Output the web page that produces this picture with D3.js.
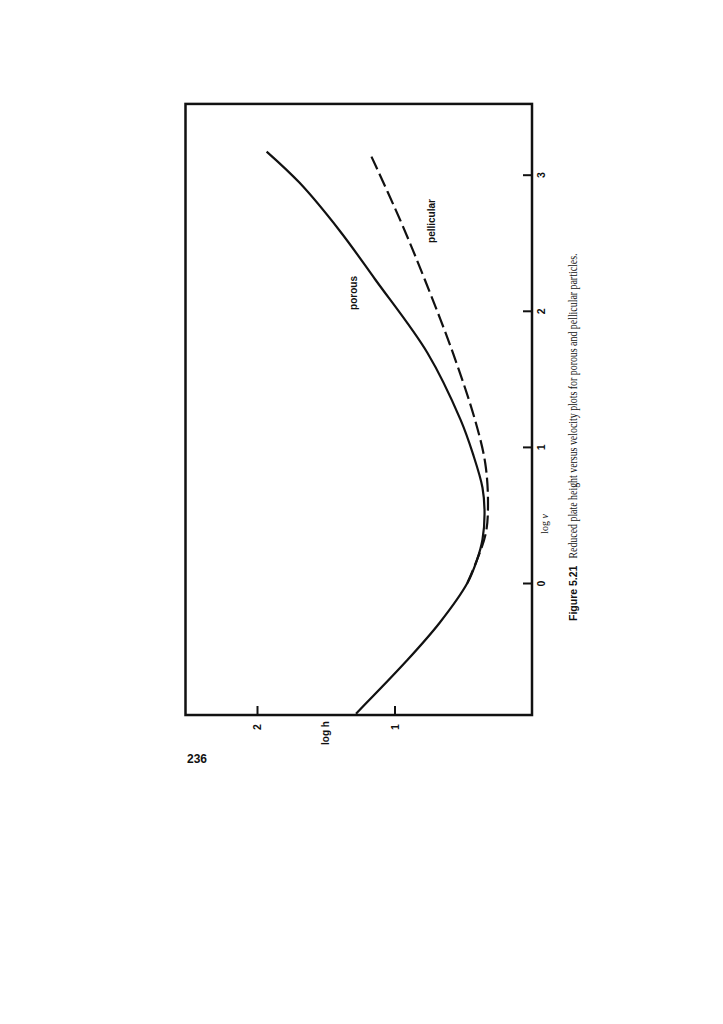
<!DOCTYPE html>
<html lang="en">
<head>
  <meta charset="UTF-8">
  <title>Reduced plate height versus velocity</title>
  <style>
    body { margin: 0; background: #fff; }
    svg { display: block; }
    .lbl { font-family: 'Liberation Sans', Arial, sans-serif; font-weight: bold; fill: #111; }
    .cap { font-family: 'Liberation Serif', 'Times New Roman', serif; fill: #111; }
  </style>
</head>
<body>
<svg width="723" height="1024"></svg>
<script src="https://d3js.org/d3.v7.min.js"></script>
<script>
// log nu (velocity) vs log h (reduced plate height)
const porousLogV = [-0.96, -0.57, -0.29, 0.0, 0.17, 0.32, 0.51, 0.70, 0.95, 1.20, 1.69, 2.23, 2.59, 2.94, 3.17];
const porousLogH = [1.28, 0.91, 0.67, 0.47, 0.40, 0.36, 0.345, 0.36, 0.43, 0.52, 0.76, 1.14, 1.40, 1.69, 1.93];

const pellicularLogV = [0.0, 0.17, 0.37, 0.59, 0.88, 1.20, 1.69, 2.23, 2.67, 3.16];
const pellicularLogH = [0.47, 0.40, 0.335, 0.32, 0.34, 0.415, 0.575, 0.78, 0.96, 1.18];

const logVTicks = [0, 1, 2, 3];
const logHTicks = [2, 1];

const svg = d3.select("svg");

// the page is printed sideways: log nu runs up the right edge, log h runs leftwards along the bottom
const v = d3.scaleLinear().domain([0, 3]).range([583, 174.7]);
const h = d3.scaleLinear().domain([0, 1]).range([532, 394.5]);

const vMin = -0.97, vMax = 3.52, hMax = 2.52;

// frame
svg.append("rect")
  .attr("x", h(hMax)).attr("y", v(vMax))
  .attr("width", h(0) - h(hMax)).attr("height", v(vMin) - v(vMax))
  .attr("fill", "none").attr("stroke", "#111").attr("stroke-width", 2.5);

// log nu axis (right edge)
const rightAxis = svg.append("g")
  .attr("transform", `translate(${h(0)},0)`)
  .call(d3.axisRight(v).tickValues(logVTicks).tickSizeInner(-9).tickSizeOuter(0).tickPadding(8).tickFormat(d3.format("d")));
rightAxis.select(".domain").remove();
rightAxis.selectAll(".tick line").attr("stroke", "#111").attr("stroke-width", 2);
rightAxis.selectAll(".tick text")
  .attr("class", "lbl").attr("fill", "#111").attr("font-size", 10.5).attr("font-weight", "normal")
  .attr("transform", "translate(9,0) rotate(-90)")
  .attr("x", 0).attr("dy", "0.35em").attr("text-anchor", "middle");

// log h axis (bottom edge)
const bottomAxis = svg.append("g")
  .attr("transform", `translate(0,${v(vMin)})`)
  .call(d3.axisBottom(h).tickValues(logHTicks).tickSizeInner(-9).tickSizeOuter(0).tickFormat(d3.format("d")));
bottomAxis.select(".domain").remove();
bottomAxis.selectAll(".tick line").attr("stroke", "#111").attr("stroke-width", 2);
bottomAxis.selectAll(".tick text")
  .attr("class", "lbl").attr("fill", "#111").attr("font-size", 10.5).attr("font-weight", "normal")
  .attr("transform", "translate(0,12) rotate(-90)")
  .attr("y", 0).attr("dy", "0.35em").attr("text-anchor", "middle");

// curves
const line = d3.line()
  .x(d => h(d[1]))
  .y(d => v(d[0]))
  .curve(d3.curveCatmullRom.alpha(0.5));

const porous = porousLogV.map((d, i) => [d, porousLogH[i]]);
const pellicular = pellicularLogV.map((d, i) => [d, pellicularLogH[i]]);

svg.append("path").datum(porous)
  .attr("d", line).attr("fill", "none").attr("stroke", "#111").attr("stroke-width", 2.2);
svg.append("path").datum(pellicular)
  .attr("d", line).attr("fill", "none").attr("stroke", "#111").attr("stroke-width", 2.2)
  .attr("stroke-dasharray", "14,5");

// labels (rotated like the page)
function sideText(x, y, txt, size, cls, anchor) {
  return svg.append("text")
    .attr("class", cls)
    .attr("transform", `translate(${x},${y}) rotate(-90)`)
    .attr("dy", "0.35em")
    .attr("text-anchor", anchor || "middle")
    .attr("font-size", size)
    .text(txt);
}

sideText(353, 293, "porous", 10, "lbl");
sideText(431, 221, "pellicular", 10, "lbl");
sideText(325, 733, "log h", 10, "lbl");

const lv = sideText(544, 524, "", 10, "cap");
lv.append("tspan").text("log ");
lv.append("tspan").attr("font-style", "italic").text("\u03bd");

const cap = sideText(573, 621, "", 11.5, "cap", "start");
cap.append("tspan").attr("font-weight", "bold").attr("font-family", "'Liberation Sans', Arial, sans-serif").attr("font-size", 10.5).text("Figure 5.21");
cap.append("tspan").attr("dx", 7)
  .attr("textLength", 305).attr("lengthAdjust", "spacingAndGlyphs")
  .text("Reduced plate height versus velocity plots for porous and pellicular particles.");

svg.append("text")
  .attr("class", "lbl")
  .attr("x", 187).attr("y", 763)
  .attr("font-size", 12)
  .text("236");
</script>
</body>
</html>
